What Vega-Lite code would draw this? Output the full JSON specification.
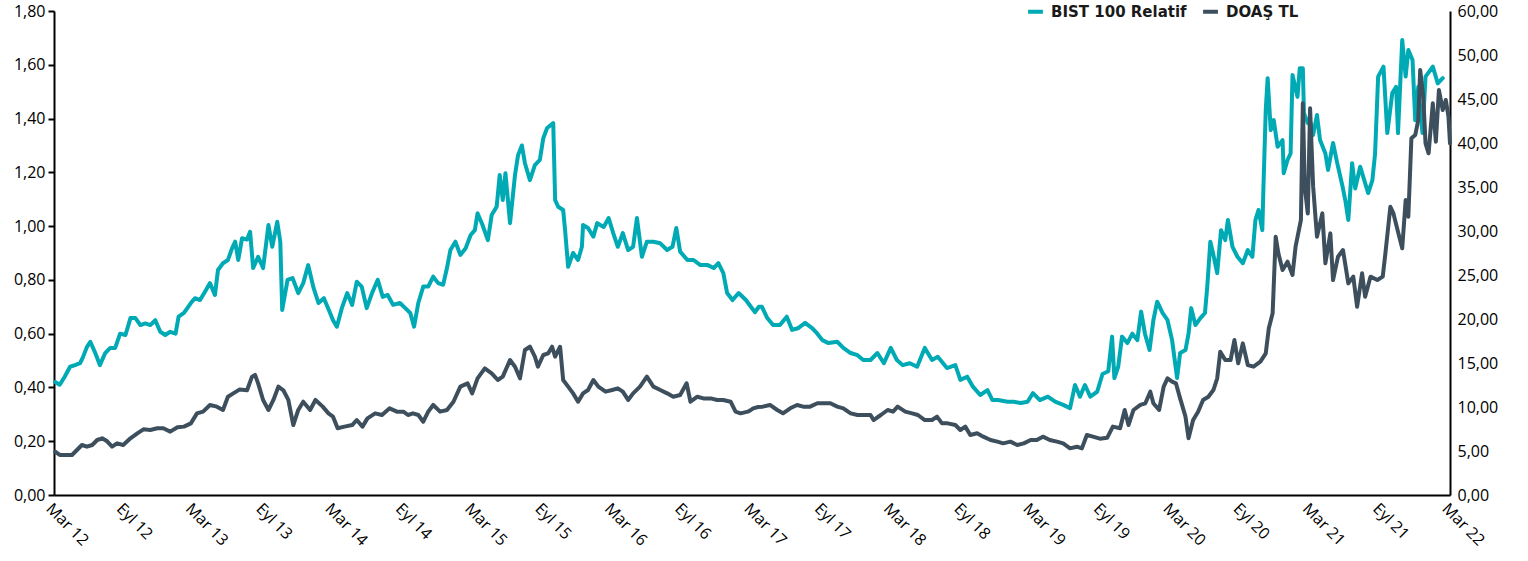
{
"$schema": "https://vega.github.io/schema/vega-lite/v6.json",
"width": 1396,
"height": 484,
"autosize": {"type": "none"},
"padding": {"left": 54, "top": 11, "right": 78, "bottom": 66},
"background": "white",
"config": {"view": {"stroke": null}, "font": "Open Sans"},
"datasets": {
"bist": [
{"d":"2012-03-04","v":0.42},{"d":"2012-03-16","v":0.41},{"d":"2012-03-29","v":0.44},{"d":"2012-04-12","v":0.477},{"d":"2012-04-25","v":0.483},{"d":"2012-05-08","v":0.49},{"d":"2012-05-15","v":0.51},{"d":"2012-05-26","v":0.55},{"d":"2012-06-04","v":0.57},{"d":"2012-06-17","v":0.528},{"d":"2012-06-29","v":0.483},{"d":"2012-07-13","v":0.528},{"d":"2012-07-26","v":0.547},{"d":"2012-08-08","v":0.547},{"d":"2012-08-21","v":0.60},{"d":"2012-09-04","v":0.595},{"d":"2012-09-17","v":0.658},{"d":"2012-09-30","v":0.658},{"d":"2012-10-13","v":0.632},{"d":"2012-10-26","v":0.638},{"d":"2012-11-08","v":0.632},{"d":"2012-11-21","v":0.65},{"d":"2012-12-04","v":0.607},{"d":"2012-12-17","v":0.595},{"d":"2012-12-30","v":0.607},{"d":"2013-01-13","v":0.60},{"d":"2013-01-21","v":0.663},{"d":"2013-02-04","v":0.677},{"d":"2013-02-22","v":0.714},{"d":"2013-03-05","v":0.732},{"d":"2013-03-18","v":0.725},{"d":"2013-03-31","v":0.756},{"d":"2013-04-13","v":0.788},{"d":"2013-04-26","v":0.744},{"d":"2013-05-04","v":0.837},{"d":"2013-05-17","v":0.862},{"d":"2013-05-30","v":0.874},{"d":"2013-06-10","v":0.918},{"d":"2013-06-18","v":0.942},{"d":"2013-06-26","v":0.874},{"d":"2013-07-06","v":0.955},{"d":"2013-07-19","v":0.95},{"d":"2013-07-27","v":0.979},{"d":"2013-08-04","v":0.844},{"d":"2013-08-17","v":0.886},{"d":"2013-08-30","v":0.844},{"d":"2013-09-13","v":1.004},{"d":"2013-09-23","v":0.923},{"d":"2013-10-06","v":1.016},{"d":"2013-10-14","v":0.942},{"d":"2013-10-19","v":0.688},{"d":"2013-11-02","v":0.80},{"d":"2013-11-15","v":0.807},{"d":"2013-11-30","v":0.751},{"d":"2013-12-13","v":0.788},{"d":"2013-12-26","v":0.855},{"d":"2014-01-09","v":0.77},{"d":"2014-01-22","v":0.714},{"d":"2014-02-05","v":0.732},{"d":"2014-02-18","v":0.688},{"d":"2014-03-01","v":0.65},{"d":"2014-03-11","v":0.626},{"d":"2014-03-24","v":0.695},{"d":"2014-04-07","v":0.751},{"d":"2014-04-20","v":0.707},{"d":"2014-05-02","v":0.793},{"d":"2014-05-15","v":0.775},{"d":"2014-05-28","v":0.695},{"d":"2014-06-11","v":0.751},{"d":"2014-06-26","v":0.80},{"d":"2014-07-09","v":0.737},{"d":"2014-07-22","v":0.744},{"d":"2014-08-05","v":0.707},{"d":"2014-08-23","v":0.714},{"d":"2014-09-06","v":0.695},{"d":"2014-09-19","v":0.677},{"d":"2014-09-29","v":0.626},{"d":"2014-10-10","v":0.714},{"d":"2014-10-23","v":0.775},{"d":"2014-11-05","v":0.775},{"d":"2014-11-18","v":0.812},{"d":"2014-12-01","v":0.788},{"d":"2014-12-14","v":0.782},{"d":"2014-12-24","v":0.844},{"d":"2015-01-02","v":0.911},{"d":"2015-01-15","v":0.942},{"d":"2015-01-28","v":0.893},{"d":"2015-02-11","v":0.918},{"d":"2015-02-24","v":0.967},{"d":"2015-03-07","v":0.985},{"d":"2015-03-14","v":1.048},{"d":"2015-03-27","v":1.004},{"d":"2015-04-10","v":0.948},{"d":"2015-04-20","v":1.041},{"d":"2015-05-03","v":1.072},{"d":"2015-05-11","v":1.19},{"d":"2015-05-19","v":1.097},{"d":"2015-05-26","v":1.197},{"d":"2015-06-07","v":1.011},{"d":"2015-06-20","v":1.19},{"d":"2015-06-28","v":1.264},{"d":"2015-07-08","v":1.30},{"d":"2015-07-16","v":1.234},{"d":"2015-07-29","v":1.171},{"d":"2015-08-11","v":1.227},{"d":"2015-08-24","v":1.246},{"d":"2015-09-02","v":1.327},{"d":"2015-09-12","v":1.365},{"d":"2015-09-28","v":1.383},{"d":"2015-10-03","v":1.097},{"d":"2015-10-11","v":1.072},{"d":"2015-10-24","v":1.06},{"d":"2015-10-29","v":0.985},{"d":"2015-11-06","v":0.849},{"d":"2015-11-19","v":0.90},{"d":"2015-12-02","v":0.874},{"d":"2015-12-12","v":0.923},{"d":"2015-12-15","v":1.004},{"d":"2015-12-28","v":0.993},{"d":"2016-01-11","v":0.961},{"d":"2016-01-21","v":1.011},{"d":"2016-02-07","v":0.997},{"d":"2016-02-20","v":1.03},{"d":"2016-03-03","v":0.974},{"d":"2016-03-15","v":0.923},{"d":"2016-03-28","v":0.974},{"d":"2016-04-11","v":0.911},{"d":"2016-04-24","v":0.923},{"d":"2016-05-04","v":1.03},{"d":"2016-05-17","v":0.886},{"d":"2016-05-30","v":0.942},{"d":"2016-06-16","v":0.942},{"d":"2016-07-04","v":0.936},{"d":"2016-07-22","v":0.911},{"d":"2016-08-05","v":0.923},{"d":"2016-08-15","v":0.993},{"d":"2016-08-25","v":0.905},{"d":"2016-09-13","v":0.874},{"d":"2016-09-29","v":0.874},{"d":"2016-10-17","v":0.855},{"d":"2016-11-05","v":0.855},{"d":"2016-11-21","v":0.844},{"d":"2016-12-03","v":0.862},{"d":"2016-12-16","v":0.825},{"d":"2016-12-26","v":0.751},{"d":"2017-01-09","v":0.725},{"d":"2017-01-25","v":0.751},{"d":"2017-02-13","v":0.725},{"d":"2017-02-26","v":0.70},{"d":"2017-03-09","v":0.68},{"d":"2017-03-19","v":0.70},{"d":"2017-03-27","v":0.70},{"d":"2017-04-10","v":0.658},{"d":"2017-04-25","v":0.632},{"d":"2017-05-13","v":0.632},{"d":"2017-05-31","v":0.663},{"d":"2017-06-14","v":0.614},{"d":"2017-06-29","v":0.62},{"d":"2017-07-18","v":0.64},{"d":"2017-08-06","v":0.62},{"d":"2017-08-19","v":0.60},{"d":"2017-09-01","v":0.576},{"d":"2017-09-17","v":0.565},{"d":"2017-10-10","v":0.57},{"d":"2017-10-26","v":0.547},{"d":"2017-11-14","v":0.528},{"d":"2017-12-02","v":0.52},{"d":"2017-12-17","v":0.502},{"d":"2018-01-05","v":0.502},{"d":"2018-01-23","v":0.528},{"d":"2018-02-09","v":0.49},{"d":"2018-02-27","v":0.547},{"d":"2018-03-15","v":0.502},{"d":"2018-03-30","v":0.483},{"d":"2018-04-18","v":0.49},{"d":"2018-05-07","v":0.477},{"d":"2018-05-27","v":0.547},{"d":"2018-06-15","v":0.502},{"d":"2018-06-30","v":0.514},{"d":"2018-07-24","v":0.472},{"d":"2018-08-15","v":0.483},{"d":"2018-08-28","v":0.428},{"d":"2018-09-15","v":0.44},{"d":"2018-09-30","v":0.403},{"d":"2018-10-19","v":0.372},{"d":"2018-11-07","v":0.39},{"d":"2018-11-20","v":0.353},{"d":"2018-12-05","v":0.353},{"d":"2018-12-29","v":0.347},{"d":"2019-01-14","v":0.347},{"d":"2019-02-02","v":0.342},{"d":"2019-02-20","v":0.347},{"d":"2019-03-06","v":0.379},{"d":"2019-03-24","v":0.353},{"d":"2019-04-14","v":0.366},{"d":"2019-05-03","v":0.347},{"d":"2019-05-24","v":0.335},{"d":"2019-06-11","v":0.323},{"d":"2019-06-24","v":0.409},{"d":"2019-07-07","v":0.366},{"d":"2019-07-20","v":0.409},{"d":"2019-08-03","v":0.366},{"d":"2019-08-21","v":0.384},{"d":"2019-09-04","v":0.45},{"d":"2019-09-19","v":0.46},{"d":"2019-09-29","v":0.589},{"d":"2019-10-05","v":0.435},{"d":"2019-10-15","v":0.477},{"d":"2019-10-25","v":0.589},{"d":"2019-11-08","v":0.565},{"d":"2019-11-21","v":0.60},{"d":"2019-12-04","v":0.576},{"d":"2019-12-14","v":0.682},{"d":"2019-12-24","v":0.60},{"d":"2020-01-05","v":0.539},{"d":"2020-01-15","v":0.65},{"d":"2020-01-25","v":0.719},{"d":"2020-02-08","v":0.677},{"d":"2020-02-21","v":0.65},{"d":"2020-03-04","v":0.576},{"d":"2020-03-17","v":0.435},{"d":"2020-03-25","v":0.528},{"d":"2020-04-08","v":0.539},{"d":"2020-04-16","v":0.60},{"d":"2020-04-23","v":0.695},{"d":"2020-05-04","v":0.632},{"d":"2020-05-17","v":0.658},{"d":"2020-05-29","v":0.677},{"d":"2020-06-04","v":0.775},{"d":"2020-06-12","v":0.942},{"d":"2020-06-19","v":0.90},{"d":"2020-06-30","v":0.825},{"d":"2020-07-10","v":0.985},{"d":"2020-07-21","v":0.948},{"d":"2020-07-28","v":1.023},{"d":"2020-08-09","v":0.923},{"d":"2020-08-22","v":0.886},{"d":"2020-09-05","v":0.862},{"d":"2020-09-18","v":0.911},{"d":"2020-09-30","v":0.886},{"d":"2020-10-08","v":1.023},{"d":"2020-10-16","v":1.06},{"d":"2020-10-26","v":0.985},{"d":"2020-10-29","v":1.147},{"d":"2020-11-04","v":1.432},{"d":"2020-11-09","v":1.55},{"d":"2020-11-17","v":1.357},{"d":"2020-11-25","v":1.394},{"d":"2020-12-05","v":1.295},{"d":"2020-12-18","v":1.32},{"d":"2020-12-21","v":1.197},{"d":"2020-12-31","v":1.246},{"d":"2021-01-08","v":1.27},{"d":"2021-01-13","v":1.562},{"d":"2021-01-26","v":1.481},{"d":"2021-02-01","v":1.587},{"d":"2021-02-09","v":1.587},{"d":"2021-02-12","v":1.42},{"d":"2021-02-22","v":1.383},{"d":"2021-02-28","v":1.39},{"d":"2021-03-08","v":1.339},{"d":"2021-03-18","v":1.413},{"d":"2021-03-26","v":1.32},{"d":"2021-04-09","v":1.27},{"d":"2021-04-16","v":1.209},{"d":"2021-04-29","v":1.309},{"d":"2021-05-10","v":1.234},{"d":"2021-05-23","v":1.153},{"d":"2021-05-31","v":1.097},{"d":"2021-06-08","v":1.023},{"d":"2021-06-18","v":1.234},{"d":"2021-06-26","v":1.14},{"d":"2021-07-09","v":1.221},{"d":"2021-07-22","v":1.16},{"d":"2021-07-30","v":1.123},{"d":"2021-08-10","v":1.171},{"d":"2021-08-17","v":1.27},{"d":"2021-08-25","v":1.556},{"d":"2021-09-08","v":1.593},{"d":"2021-09-18","v":1.346},{"d":"2021-10-01","v":1.495},{"d":"2021-10-11","v":1.518},{"d":"2021-10-16","v":1.346},{"d":"2021-10-27","v":1.692},{"d":"2021-11-05","v":1.556},{"d":"2021-11-12","v":1.655},{"d":"2021-11-23","v":1.618},{"d":"2021-11-30","v":1.394},{"d":"2021-12-08","v":1.518},{"d":"2021-12-19","v":1.346},{"d":"2021-12-27","v":1.556},{"d":"2022-01-15","v":1.593},{"d":"2022-01-28","v":1.531},{"d":"2022-02-10","v":1.55}
],
"doas": [
{"d":"2012-03-04","v":4.92},{"d":"2012-03-16","v":4.55},{"d":"2012-04-05","v":4.55},{"d":"2012-04-17","v":4.55},{"d":"2012-04-30","v":5.11},{"d":"2012-05-13","v":5.68},{"d":"2012-05-26","v":5.49},{"d":"2012-06-09","v":5.68},{"d":"2012-06-22","v":6.25},{"d":"2012-07-05","v":6.44},{"d":"2012-07-18","v":6.1},{"d":"2012-07-31","v":5.49},{"d":"2012-08-13","v":5.87},{"d":"2012-08-29","v":5.68},{"d":"2012-09-17","v":6.44},{"d":"2012-10-05","v":7.01},{"d":"2012-10-21","v":7.46},{"d":"2012-11-08","v":7.39},{"d":"2012-11-26","v":7.58},{"d":"2012-12-12","v":7.58},{"d":"2012-12-30","v":7.2},{"d":"2013-01-18","v":7.69},{"d":"2013-02-04","v":7.77},{"d":"2013-02-22","v":8.14},{"d":"2013-03-10","v":9.28},{"d":"2013-03-26","v":9.47},{"d":"2013-04-13","v":10.23},{"d":"2013-05-01","v":10.04},{"d":"2013-05-17","v":9.66},{"d":"2013-05-30","v":11.17},{"d":"2013-06-13","v":11.55},{"d":"2013-06-30","v":12.0},{"d":"2013-07-19","v":11.9},{"d":"2013-08-01","v":13.45},{"d":"2013-08-09","v":13.64},{"d":"2013-08-17","v":12.69},{"d":"2013-08-30","v":10.8},{"d":"2013-09-13","v":9.66},{"d":"2013-09-26","v":10.8},{"d":"2013-10-09","v":12.31},{"d":"2013-10-22","v":11.9},{"d":"2013-11-04","v":10.8},{"d":"2013-11-17","v":7.95},{"d":"2013-11-30","v":9.66},{"d":"2013-12-13","v":10.6},{"d":"2013-12-31","v":9.66},{"d":"2014-01-14","v":10.8},{"d":"2014-02-02","v":10.04},{"d":"2014-02-17","v":9.28},{"d":"2014-03-01","v":8.9},{"d":"2014-03-13","v":7.58},{"d":"2014-03-31","v":7.77},{"d":"2014-04-20","v":7.95},{"d":"2014-05-02","v":8.52},{"d":"2014-05-17","v":7.77},{"d":"2014-05-30","v":8.71},{"d":"2014-06-19","v":9.28},{"d":"2014-07-07","v":9.09},{"d":"2014-07-27","v":9.85},{"d":"2014-08-15","v":9.47},{"d":"2014-09-01","v":9.47},{"d":"2014-09-13","v":9.09},{"d":"2014-09-26","v":9.28},{"d":"2014-10-10","v":9.09},{"d":"2014-10-23","v":8.33},{"d":"2014-11-05","v":9.47},{"d":"2014-11-18","v":10.23},{"d":"2014-12-06","v":9.47},{"d":"2014-12-24","v":9.66},{"d":"2015-01-10","v":10.6},{"d":"2015-01-28","v":12.31},{"d":"2015-02-16","v":12.69},{"d":"2015-02-28","v":11.55},{"d":"2015-03-14","v":13.26},{"d":"2015-04-02","v":14.39},{"d":"2015-04-20","v":13.83},{"d":"2015-05-06","v":13.07},{"d":"2015-05-19","v":13.45},{"d":"2015-06-07","v":15.34},{"d":"2015-06-20","v":14.58},{"d":"2015-07-03","v":13.26},{"d":"2015-07-16","v":16.48},{"d":"2015-07-29","v":16.85},{"d":"2015-08-11","v":15.72},{"d":"2015-08-19","v":14.58},{"d":"2015-09-02","v":15.91},{"d":"2015-09-15","v":16.1},{"d":"2015-09-25","v":16.85},{"d":"2015-10-03","v":15.72},{"d":"2015-10-16","v":16.85},{"d":"2015-10-24","v":13.07},{"d":"2015-11-06","v":12.31},{"d":"2015-11-19","v":11.55},{"d":"2015-12-02","v":10.6},{"d":"2015-12-15","v":11.55},{"d":"2015-12-28","v":11.93},{"d":"2016-01-11","v":13.07},{"d":"2016-01-24","v":12.31},{"d":"2016-02-12","v":11.74},{"d":"2016-02-29","v":11.93},{"d":"2016-03-15","v":12.12},{"d":"2016-03-28","v":11.74},{"d":"2016-04-11","v":10.8},{"d":"2016-04-24","v":11.55},{"d":"2016-05-12","v":12.31},{"d":"2016-05-30","v":13.45},{"d":"2016-06-16","v":12.31},{"d":"2016-07-04","v":11.93},{"d":"2016-07-22","v":11.55},{"d":"2016-08-07","v":11.17},{"d":"2016-08-25","v":11.36},{"d":"2016-09-11","v":12.69},{"d":"2016-09-21","v":10.6},{"d":"2016-10-09","v":11.17},{"d":"2016-10-25","v":10.98},{"d":"2016-11-13","v":10.98},{"d":"2016-11-30","v":10.8},{"d":"2016-12-16","v":10.8},{"d":"2017-01-04","v":10.6},{"d":"2017-01-17","v":9.47},{"d":"2017-01-30","v":9.28},{"d":"2017-02-18","v":9.47},{"d":"2017-02-26","v":9.66},{"d":"2017-03-04","v":9.85},{"d":"2017-03-17","v":10.0},{"d":"2017-03-29","v":10.04},{"d":"2017-04-17","v":10.23},{"d":"2017-05-06","v":9.66},{"d":"2017-05-21","v":9.28},{"d":"2017-06-09","v":9.85},{"d":"2017-06-27","v":10.23},{"d":"2017-07-13","v":10.04},{"d":"2017-07-31","v":10.04},{"d":"2017-08-19","v":10.42},{"d":"2017-09-04","v":10.42},{"d":"2017-09-22","v":10.42},{"d":"2017-10-10","v":10.04},{"d":"2017-10-26","v":9.85},{"d":"2017-11-14","v":9.28},{"d":"2017-12-02","v":9.09},{"d":"2017-12-17","v":9.09},{"d":"2018-01-05","v":9.09},{"d":"2018-01-13","v":8.52},{"d":"2018-02-01","v":9.09},{"d":"2018-02-19","v":9.66},{"d":"2018-03-05","v":9.47},{"d":"2018-03-17","v":10.04},{"d":"2018-04-06","v":9.47},{"d":"2018-04-24","v":9.28},{"d":"2018-05-09","v":9.09},{"d":"2018-05-27","v":8.52},{"d":"2018-06-15","v":8.52},{"d":"2018-06-28","v":8.9},{"d":"2018-07-11","v":8.14},{"d":"2018-07-26","v":8.14},{"d":"2018-08-15","v":7.95},{"d":"2018-08-28","v":7.39},{"d":"2018-09-10","v":7.77},{"d":"2018-09-23","v":6.82},{"d":"2018-10-11","v":7.01},{"d":"2018-10-27","v":6.63},{"d":"2018-11-15","v":6.25},{"d":"2018-12-03","v":6.06},{"d":"2018-12-18","v":5.87},{"d":"2019-01-06","v":6.06},{"d":"2019-01-24","v":5.68},{"d":"2019-02-10","v":5.87},{"d":"2019-02-28","v":6.25},{"d":"2019-03-16","v":6.25},{"d":"2019-04-01","v":6.63},{"d":"2019-04-19","v":6.25},{"d":"2019-05-08","v":6.06},{"d":"2019-05-24","v":5.87},{"d":"2019-06-11","v":5.3},{"d":"2019-06-29","v":5.49},{"d":"2019-07-12","v":5.3},{"d":"2019-07-25","v":6.82},{"d":"2019-08-10","v":6.63},{"d":"2019-08-28","v":6.4},{"d":"2019-09-16","v":6.5},{"d":"2019-10-01","v":7.77},{"d":"2019-10-20","v":7.58},{"d":"2019-11-01","v":9.66},{"d":"2019-11-11","v":7.95},{"d":"2019-11-24","v":9.66},{"d":"2019-12-12","v":10.23},{"d":"2019-12-25","v":10.42},{"d":"2020-01-07","v":11.74},{"d":"2020-01-15","v":10.42},{"d":"2020-01-30","v":9.66},{"d":"2020-02-11","v":12.31},{"d":"2020-02-21","v":13.26},{"d":"2020-03-04","v":12.88},{"d":"2020-03-14","v":12.69},{"d":"2020-03-25","v":10.98},{"d":"2020-04-08","v":8.9},{"d":"2020-04-16","v":6.44},{"d":"2020-04-28","v":8.52},{"d":"2020-05-11","v":9.47},{"d":"2020-05-24","v":10.8},{"d":"2020-06-07","v":11.17},{"d":"2020-06-20","v":11.93},{"d":"2020-06-30","v":13.26},{"d":"2020-07-08","v":16.29},{"d":"2020-07-21","v":15.34},{"d":"2020-08-04","v":15.34},{"d":"2020-08-14","v":17.61},{"d":"2020-08-24","v":14.96},{"d":"2020-09-05","v":17.23},{"d":"2020-09-18","v":14.77},{"d":"2020-10-03","v":14.58},{"d":"2020-10-21","v":15.15},{"d":"2020-11-04","v":16.1},{"d":"2020-11-12","v":18.94},{"d":"2020-11-22","v":20.64},{"d":"2020-11-30","v":29.35},{"d":"2020-12-07","v":27.46},{"d":"2020-12-18","v":25.57},{"d":"2020-12-31","v":26.51},{"d":"2021-01-13","v":25.0},{"d":"2021-01-21","v":28.22},{"d":"2021-02-04","v":31.25},{"d":"2021-02-09","v":44.51},{"d":"2021-02-14","v":35.04},{"d":"2021-02-22","v":32.0},{"d":"2021-02-28","v":43.94},{"d":"2021-03-08","v":35.04},{"d":"2021-03-18","v":29.35},{"d":"2021-04-01","v":32.0},{"d":"2021-04-09","v":26.33},{"d":"2021-04-22","v":29.73},{"d":"2021-04-29","v":24.43},{"d":"2021-05-12","v":27.08},{"d":"2021-05-25","v":27.84},{"d":"2021-06-08","v":24.05},{"d":"2021-06-21","v":24.81},{"d":"2021-07-01","v":21.4},{"d":"2021-07-14","v":25.19},{"d":"2021-07-22","v":22.53},{"d":"2021-08-05","v":24.81},{"d":"2021-08-23","v":24.43},{"d":"2021-09-06","v":24.81},{"d":"2021-09-13","v":27.46},{"d":"2021-09-26","v":32.76},{"d":"2021-10-04","v":32.0},{"d":"2021-10-17","v":29.73},{"d":"2021-10-27","v":28.03},{"d":"2021-11-05","v":33.52},{"d":"2021-11-12","v":31.63},{"d":"2021-11-20","v":40.53},{"d":"2021-11-30","v":40.9},{"d":"2021-12-08","v":42.61},{"d":"2021-12-13","v":48.3},{"d":"2021-12-21","v":45.27},{"d":"2021-12-27","v":39.96},{"d":"2022-01-04","v":38.83},{"d":"2022-01-15","v":44.51},{"d":"2022-01-23","v":40.15},{"d":"2022-01-31","v":46.02},{"d":"2022-02-10","v":43.75},{"d":"2022-02-18","v":44.89},{"d":"2022-02-25","v":42.99},{"d":"2022-03-01","v":39.96}
]
},
"encoding": {
"x": {
"field": "d", "type": "temporal",
"scale": {"type": "utc", "domain": [{"year": 2012, "month": 3, "date": 1, "utc": true}, {"year": 2022, "month": 3, "date": 1, "utc": true}]},
"axis": {
"title": null, "grid": false, "ticks": false,
"domainColor": "#000000", "domainWidth": 2,
"values": [
{"year":2012,"month":3,"date":1,"utc":true},{"year":2012,"month":9,"date":1,"utc":true},
{"year":2013,"month":3,"date":1,"utc":true},{"year":2013,"month":9,"date":1,"utc":true},
{"year":2014,"month":3,"date":1,"utc":true},{"year":2014,"month":9,"date":1,"utc":true},
{"year":2015,"month":3,"date":1,"utc":true},{"year":2015,"month":9,"date":1,"utc":true},
{"year":2016,"month":3,"date":1,"utc":true},{"year":2016,"month":9,"date":1,"utc":true},
{"year":2017,"month":3,"date":1,"utc":true},{"year":2017,"month":9,"date":1,"utc":true},
{"year":2018,"month":3,"date":1,"utc":true},{"year":2018,"month":9,"date":1,"utc":true},
{"year":2019,"month":3,"date":1,"utc":true},{"year":2019,"month":9,"date":1,"utc":true},
{"year":2020,"month":3,"date":1,"utc":true},{"year":2020,"month":9,"date":1,"utc":true},
{"year":2021,"month":3,"date":1,"utc":true},{"year":2021,"month":9,"date":1,"utc":true},
{"year":2022,"month":3,"date":1,"utc":true}
],
"labelExpr": "(utcmonth(datum.value) == 2 ? 'Mar ' : 'Eyl ') + utcFormat(datum.value, '%y')",
"labelAngle": 45, "labelAlign": "left", "labelBaseline": "top", "labelPadding": 5,
"labelFontSize": 16, "labelColor": "#000000", "labelOverlap": false, "labelBound": false, "labelFlush": false
}
}
},
"layer": [
{
"data": {"name": "bist"},
"transform": [{"calculate": "'BIST 100 Relatif'", "as": "s"}],
"mark": {"type": "line", "strokeWidth": 4, "strokeJoin": "round", "strokeCap": "round"},
"encoding": {
"y": {"field": "v", "type": "quantitative",
"scale": {"domain": [0, 1.8], "nice": false},
"axis": {"orient": "left", "title": null, "grid": false,
"values": [0, 0.2, 0.4, 0.6, 0.8, 1.0, 1.2, 1.4, 1.6, 1.8],
"labelExpr": "replace(format(datum.value, '.2f'), '.', ',')",
"domainColor": "#000000", "domainWidth": 2, "tickColor": "#000000", "tickWidth": 2, "tickSize": 6,
"labelPadding": 3, "labelFontSize": 16, "labelColor": "#000000"}},
"color": {"field": "s", "type": "nominal",
"scale": {"domain": ["BIST 100 Relatif", "DOAŞ TL"], "range": ["#00AAB5", "#3D4F5D"]},
"legend": {"title": null, "orient": "none", "legendX": 972, "legendY": -9, "direction": "horizontal",
"symbolType": "stroke", "symbolStrokeWidth": 4, "symbolSize": 220,
"labelFont": "DejaVu Sans", "labelFontSize": 15, "labelFontWeight": "bold", "labelColor": "#1a1a1a", "labelOffset": 6, "columnPadding": 8}}
}
},
{
"data": {"name": "doas"},
"transform": [{"calculate": "'DOAŞ TL'", "as": "s"}],
"mark": {"type": "line", "strokeWidth": 4, "strokeJoin": "round", "strokeCap": "round"},
"encoding": {
"y": {"field": "v", "type": "quantitative",
"scale": {"domain": [0, 55], "nice": false},
"axis": {"orient": "right", "title": null, "grid": false, "ticks": false,
"values": [0, 5, 10, 15, 20, 25, 30, 35, 40, 45, 50, 55],
"labelExpr": "datum.value == 55 ? '60,00' : replace(format(datum.value, '.2f'), '.', ',')",
"domainColor": "#000000", "domainWidth": 2,
"labelPadding": 7, "labelFontSize": 16, "labelColor": "#000000"}},
"color": {"field": "s", "type": "nominal",
"scale": {"domain": ["BIST 100 Relatif", "DOAŞ TL"], "range": ["#00AAB5", "#3D4F5D"]}}
}
}
],
"resolve": {"scale": {"y": "independent"}}
}
